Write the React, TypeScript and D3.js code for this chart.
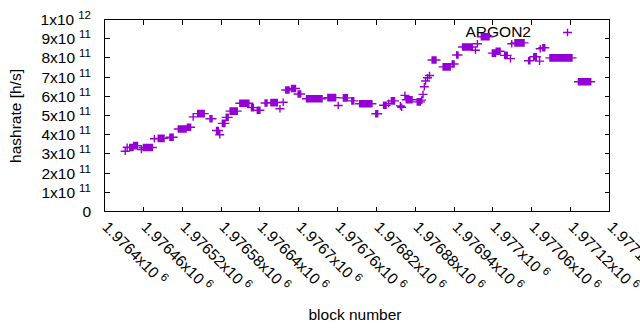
import React from 'react';
import * as d3 from 'd3';

// Runs of constant hashrate: first block, last block, hashrate [h/s]
const runStartBlock = [
  1976432, 1976435, 1976439, 1976445, 1976457, 1976460, 1976477, 1976483, 1976501, 1976514,
  1976528, 1976537, 1976544, 1976563, 1976573, 1976578, 1976582, 1976588, 1976594, 1976609,
  1976627, 1976636, 1976648, 1976657, 1976671, 1976676, 1976680, 1976689, 1976699, 1976712,
  1976745, 1976761, 1976769, 1976782, 1976794, 1976819, 1976831, 1976839, 1976843, 1976857,
  1976859, 1976864, 1976866, 1976883, 1976890, 1976892, 1976894, 1976896, 1976899, 1976902,
  1976906, 1976923, 1976937, 1976944, 1976953, 1976973, 1976976, 1976982, 1976999, 1977005,
  1977018, 1977027, 1977029, 1977034, 1977055, 1977063, 1977072, 1977073, 1977077, 1977088,
  1977132,
];
const runEndBlock = [
  1976432, 1976435, 1976444, 1976451, 1976457, 1976474, 1976477, 1976492, 1976506, 1976526,
  1976533, 1976537, 1976554, 1976566, 1976576, 1976578, 1976586, 1976591, 1976605, 1976623,
  1976630, 1976640, 1976651, 1976667, 1976671, 1976676, 1976685, 1976695, 1976703, 1976736,
  1976757, 1976761, 1976775, 1976785, 1976813, 1976822, 1976835, 1976839, 1976848, 1976857,
  1976859, 1976864, 1976875, 1976888, 1976890, 1976892, 1976894, 1976896, 1976899, 1976902,
  1976912, 1976934, 1976940, 1976946, 1976968, 1976973, 1976976, 1976994, 1977004, 1977011,
  1977022, 1977027, 1977029, 1977048, 1977057, 1977067, 1977072, 1977073, 1977080, 1977122,
  1977151,
];
const runHashrate = [
  3.14e11, 3.35e11, 3.33e11, 3.43e11, 3.23e11, 3.33e11, 3.79e11, 3.81e11, 3.87e11, 4.30e11,
  4.39e11, 4.93e11, 5.10e11, 4.83e11, 4.22e11, 4.00e11, 4.59e11, 4.90e11, 5.23e11, 5.64e11,
  5.41e11, 5.27e11, 5.65e11, 5.67e11, 5.35e11, 5.69e11, 6.33e11, 6.41e11, 6.12e11, 5.87e11,
  5.93e11, 5.52e11, 5.92e11, 5.76e11, 5.61e11, 5.09e11, 5.53e11, 5.63e11, 5.76e11, 5.50e11,
  5.43e11, 6.05e11, 5.82e11, 5.71e11, 5.80e11, 6.10e11, 6.50e11, 6.80e11, 6.97e11, 7.08e11,
  7.89e11, 7.53e11, 7.68e11, 8.15e11, 8.57e11, 8.40e11, 8.74e11, 9.10e11, 8.25e11, 8.35e11,
  8.13e11, 7.96e11, 8.74e11, 8.78e11, 7.85e11, 8.06e11, 7.83e11, 8.48e11, 8.53e11, 8.00e11,
  6.76e11,
];

const xDomain = [1976400, 1977180];
const xTickStep = 60;
const yDomain = [0, 1e12];
const yTickStep = 1e11;
const seriesName = 'ARGON2';
const xLabel = 'block number';
const yLabel = 'hashrate [h/s]';

const W = 640;
const H = 330;
const PL = 104.5, PR = 609.5, PT = 19.5, PB = 211.5;
const COLOR = '#9400d3';
const FONT = '"Liberation Sans", Arial, sans-serif';

function plusPath(p: d3.Path, cx: number, cy: number) {
  p.moveTo(cx - 4.5, cy);
  p.lineTo(cx + 4.5, cy);
  p.moveTo(cx, cy - 3.8);
  p.lineTo(cx, cy + 3.8);
}

export default function App() {
  const x = d3.scaleLinear().domain(xDomain).range([PL, PR]);
  const y = d3.scaleLinear().domain(yDomain).range([PB, PT]);

  const points: { b: number; v: number }[] = [];
  runStartBlock.forEach((s, i) => {
    for (let b = s; b <= runEndBlock[i]; b++) points.push({ b, v: runHashrate[i] });
  });
  const p = d3.path();
  points.forEach((d) => plusPath(p, x(d.b), y(d.v)));
  const keyP = d3.path();
  plusPath(keyP, 567.5, 32.5);

  const xTicks = d3.range(xDomain[0], xDomain[1] + 1, xTickStep);
  const yTicks = d3.range(yDomain[0], yDomain[1] + 1, yTickStep);

  const snap = (v: number) => Math.round(v - 0.5) + 0.5;

  return (
    <svg width={W} height={H} style={{ position: 'absolute', left: 0, top: 0, background: '#fff' }}
      fontFamily={FONT} fontSize={15.5}>
      <rect x={0} y={0} width={W} height={H} fill="#fff" />
      {yTicks.map((t) => {
        const yy = snap(y(t));
        const exp = t === 0 ? 0 : Math.floor(Math.log10(t) + 1e-9);
        const mant = t === 0 ? 0 : Math.round(t / Math.pow(10, exp));
        return (
          <g key={'y' + t}>
            <line x1={PL} x2={PL + 5} y1={yy} y2={yy} stroke="#000" shapeRendering="crispEdges" />
            <line x1={PR} x2={PR - 5} y1={yy} y2={yy} stroke="#000" shapeRendering="crispEdges" />
            {t === 0 ? (
              <text x={91} y={yy + 5} textAnchor="end">0</text>
            ) : (
              <text x={91} y={yy + 5} textAnchor="end">
                {`${mant}x10`}
                <tspan dx={4} dy={-6} fontSize={11.5}>{exp}</tspan>
              </text>
            )}
          </g>
        );
      })}
      {xTicks.map((t) => {
        const xx = snap(x(t));
        const lab = parseFloat((t / 1e6).toFixed(6)).toString();
        return (
          <g key={'x' + t}>
            <line x1={xx} x2={xx} y1={PB} y2={PB - 5} stroke="#000" shapeRendering="crispEdges" />
            <line x1={xx} x2={xx} y1={PT} y2={PT + 5} stroke="#000" shapeRendering="crispEdges" />
            <text transform={`translate(${xx - 3},${228}) rotate(45)`}>
              {`${lab}x10`}
              <tspan dx={4} dy={-6} fontSize={11.5}>6</tspan>
            </text>
          </g>
        );
      })}
      <rect x={PL} y={PT} width={PR - PL} height={PB - PT} fill="none" stroke="#000" shapeRendering="crispEdges" />
      <text x={21} y={116} transform="rotate(-90,21,116)" textAnchor="middle">{yLabel}</text>
      <text x={355} y={320} textAnchor="middle">{xLabel}</text>
      <text x={531} y={37} textAnchor="end">{seriesName}</text>
      <path d={keyP.toString()} stroke={COLOR} strokeWidth={1.4} fill="none" />
      <path d={p.toString()} stroke={COLOR} strokeWidth={1.4} fill="none" />
    </svg>
  );
}
